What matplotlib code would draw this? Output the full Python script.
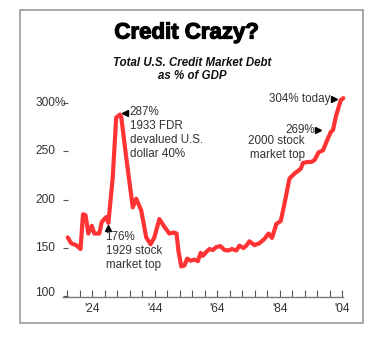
import matplotlib
matplotlib.use('Agg')
import matplotlib.pyplot as plt
import matplotlib.patheffects as pe
from matplotlib.patches import Rectangle

plt.rcParams['font.family'] = ['Liberation Sans', 'DejaVu Sans']

# Total U.S. credit market debt, % of GDP
years = [1916.2, 1917.3, 1918.9, 1920.3, 1921.1, 1921.9, 1922.8, 1923.9, 1924.7, 1926.3,
         1927.1, 1928.5, 1929.2, 1930.6, 1931.7, 1932.9, 1933.3, 1934.9, 1937.0, 1938.1,
         1939.7, 1941.3, 1942.7, 1943.9, 1945.5, 1947.1, 1948.7, 1950.1, 1951.0, 1951.6,
         1952.5, 1953.5, 1954.4, 1955.5, 1956.7, 1957.8, 1958.7, 1959.4, 1960.5, 1961.5,
         1962.6, 1963.7, 1965.0, 1966.3, 1967.6, 1968.7, 1970.1, 1971.1, 1972.4, 1973.3,
         1974.3, 1975.9, 1977.5, 1979.1, 1980.4, 1981.5, 1982.9, 1984.3, 1985.5, 1987.1,
         1988.7, 1990.7, 1991.4, 1993.0, 1994.1, 1995.1, 1996.4, 1997.8, 1999.2, 2000.3,
         2001.0, 2002.0, 2003.5, 2004.3]
debt_pct = [161, 155, 153, 149, 185, 184, 165, 173, 165, 165,
            177, 182, 176, 223, 285, 288, 286, 244, 192, 201,
            189, 161, 154, 161, 180, 172, 165, 166, 165, 147,
            131, 132, 139, 137, 138, 136.5, 145, 142, 146, 149,
            148, 151, 152, 148, 147.5, 149, 147.5, 152.5, 150, 152.5,
            157, 153, 155, 159.5, 165, 160.5, 175, 178, 196, 222,
            227, 232, 238, 239, 239, 241, 249, 251, 262, 270,
            272, 287, 303, 305]

x_ticks = list(range(1916, 2005, 4))
x_label_years = [1924, 1944, 1964, 1984, 2004]
y_ticks = [100, 150, 200, 250, 300]

W, H = 383, 347


def px_box(left, top, right, bottom):
    return [left / W, 1 - bottom / H, (right - left) / W, (bottom - top) / H]


fig = plt.figure(figsize=(W / 100, H / 100), dpi=100)
fig.patches.append(Rectangle((20 / W, 1 - 323 / H), 343 / W, 313 / H, transform=fig.transFigure,
                             fill=False, edgecolor='#9a9a9a', lw=1.2))

fig.text(0.487, 1 - 33 / H, 'Credit Crazy?', ha='center', va='center',
         fontsize=16, fontweight='bold',
         path_effects=[pe.withStroke(linewidth=0.9, foreground='black')])
fig.text(0.502, 1 - 69.5 / H, 'Total U.S. Credit Market Debt\nas % of GDP', ha='center', va='center',
         fontsize=8.3, fontweight='bold', style='italic', linespacing=1.15, color='#111111')

ax = fig.add_axes(px_box(63, 90, 343, 297))
ax.plot(years, debt_pct, color='#ff3333', lw=3, solid_capstyle='round', clip_on=False)

ax.set_xlim(1914.7, 2004.2)
ax.set_ylim(99.4, 313.4)
for s in ['left', 'right', 'top']:
    ax.spines[s].set_visible(False)
ax.spines['bottom'].set_color('#777777')
ax.spines['bottom'].set_linewidth(1)

ax.set_xticks(x_ticks)
ax.set_xticklabels(["'%02d" % (y % 100) if y in x_label_years else '' for y in x_ticks])
ax.tick_params(axis='x', direction='in', length=5, width=0.8, color='#555555',
               labelsize=8.6, labelcolor='#333333', pad=4)

ax.set_yticks(y_ticks)
ax.set_yticklabels([])
ax.tick_params(axis='y', direction='in', length=3.5, width=0.8, color='#555555', pad=0)

# y labels: numbers right aligned, "%" hanging on the top one
ytr = ax.get_yaxis_transform()
lab_x = (55 - 63) / 280
for v in y_ticks:
    yv = v + 3.5 if v == 100 else v
    ax.text(lab_x, yv, str(v), transform=ytr, ha='right', va='center',
            fontsize=8.6, color='#333333')
ax.text(lab_x, 300, '%', transform=ytr, ha='left', va='center', fontsize=8.6, color='#333333')

txt = dict(fontsize=8.4, color='#333333', linespacing=1.2)
ax.plot([1929.2], [170.5], marker='^', ms=4.5, color='black', clip_on=False)
ax.text(1928.3, 167.5, '176%\n1929 stock\nmarket top', ha='left', va='top', **txt)

ax.plot([1934.6], [290], marker='<', ms=4.5, color='black', clip_on=False)
ax.text(1936.0, 296.5, '287%\n1933 FDR\ndevalued U.S.\ndollar 40%', ha='left', va='top', **txt)

ax.plot([2001.3], [304], marker='>', ms=4.5, color='black', clip_on=False)
ax.text(2000.2, 304, '304% today', ha='right', va='center', **txt)

ax.plot([1996.3], [272], marker='>', ms=4.5, color='black', clip_on=False)
ax.text(1995.1, 272, '269%', ha='right', va='center', **txt)
ax.text(1991.9, 266.5, '2000 stock\nmarket top', ha='right', va='top', **txt)

fig.savefig('out.png', dpi=100)
